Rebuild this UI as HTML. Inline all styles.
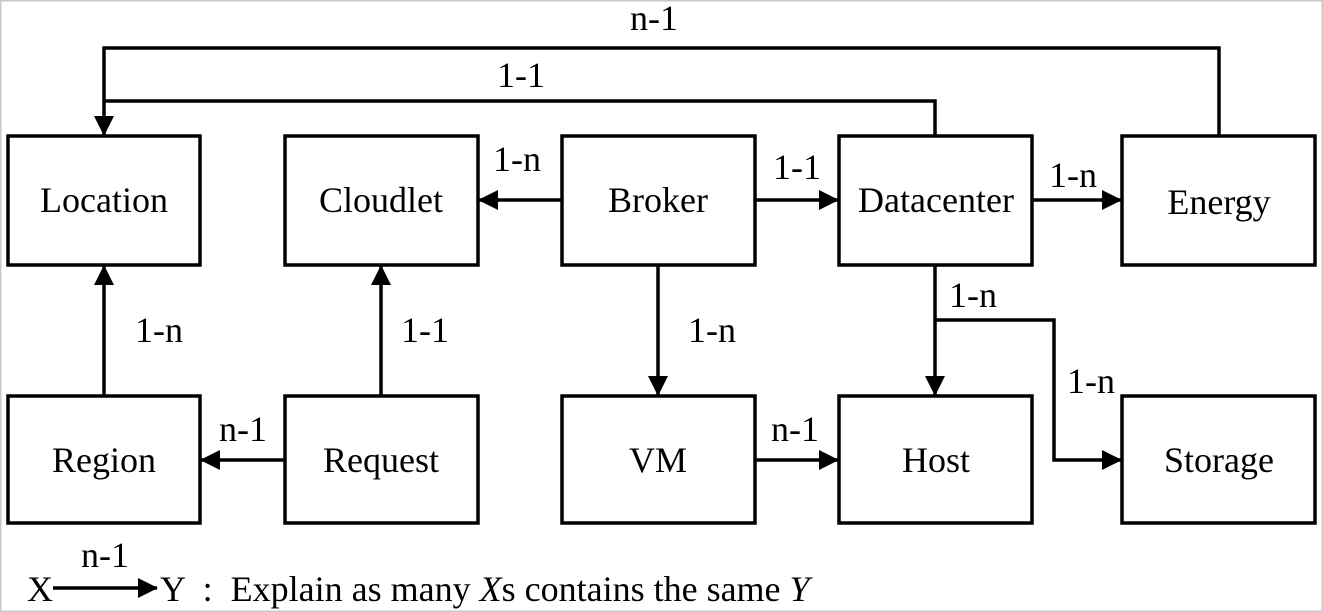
<!DOCTYPE html>
<html><head><meta charset="utf-8"><style>
html,body{margin:0;padding:0;background:#fff}
svg{display:block}
text{font-family:"Liberation Serif",serif;font-size:36px;fill:#000;white-space:pre}
</style></head><body>
<svg width="1323" height="612" viewBox="0 0 1323 612" xmlns="http://www.w3.org/2000/svg">
<defs><marker id="a" markerWidth="20" markerHeight="20" refX="19" refY="10" orient="auto" markerUnits="userSpaceOnUse"><path d="M0,0 L20,10 L0,20 Z" fill="#000"/></marker></defs>
<rect x="0.5" y="0.5" width="1322" height="611" fill="none" stroke="#c8c8c8" stroke-width="2"/>
<g fill="none" stroke="#000" stroke-width="3.5">
<rect x="8" y="136" width="192" height="129"/>
<rect x="285" y="136" width="193" height="129"/>
<rect x="562" y="136" width="193" height="129"/>
<rect x="839" y="136" width="193" height="129"/>
<rect x="1122" y="136" width="193" height="129"/>
<rect x="8" y="396" width="192" height="127"/>
<rect x="285" y="396" width="193" height="127"/>
<rect x="562" y="396" width="193" height="127"/>
<rect x="839" y="396" width="193" height="127"/>
<rect x="1122" y="396" width="193" height="127"/>
<polyline points="1219,136 1219,48 104,48 104,135" marker-end="url(#a)"/>
<polyline points="935,136 935,101 104,101"/>
<line x1="562" y1="200" x2="479" y2="200" marker-end="url(#a)"/>
<line x1="755" y1="200" x2="838" y2="200" marker-end="url(#a)"/>
<line x1="1032" y1="200" x2="1121" y2="200" marker-end="url(#a)"/>
<line x1="658" y1="265" x2="658" y2="395" marker-end="url(#a)"/>
<line x1="755" y1="460" x2="838" y2="460" marker-end="url(#a)"/>
<line x1="935" y1="265" x2="935" y2="395" marker-end="url(#a)"/>
<polyline points="935,320 1054,320 1054,460 1121,460" marker-end="url(#a)"/>
<line x1="104" y1="396" x2="104" y2="266" marker-end="url(#a)"/>
<line x1="381" y1="396" x2="381" y2="266" marker-end="url(#a)"/>
<line x1="285" y1="460" x2="201" y2="460" marker-end="url(#a)"/>
<line x1="53" y1="588" x2="157" y2="588" marker-end="url(#a)"/>
</g>
<g text-anchor="middle">
<text x="104" y="212">Location</text>
<text x="381" y="212">Cloudlet</text>
<text x="658" y="212">Broker</text>
<text x="936" y="212">Datacenter</text>
<text x="1219" y="214">Energy</text>
<text x="104" y="472">Region</text>
<text x="381" y="472">Request</text>
<text x="658" y="472">VM</text>
<text x="936" y="472">Host</text>
<text x="1219" y="472">Storage</text>
<text x="654" y="30">n-1</text>
<text x="521" y="87">1-1</text>
<text x="517" y="171">1-n</text>
<text x="797" y="179">1-1</text>
<text x="1073" y="187">1-n</text>
<text x="712" y="342">1-n</text>
<text x="795" y="441">n-1</text>
<text x="973" y="307">1-n</text>
<text x="1091" y="393">1-n</text>
<text x="159" y="342">1-n</text>
<text x="425" y="342">1-1</text>
<text x="243" y="441">n-1</text>
<text x="105" y="567">n-1</text>
</g>
<text x="27" y="601">X</text>
<text x="160" y="601">Y  :  Explain as many <tspan font-style="italic">X</tspan>s contains the same <tspan font-style="italic">Y</tspan></text>
</svg>
</body></html>
